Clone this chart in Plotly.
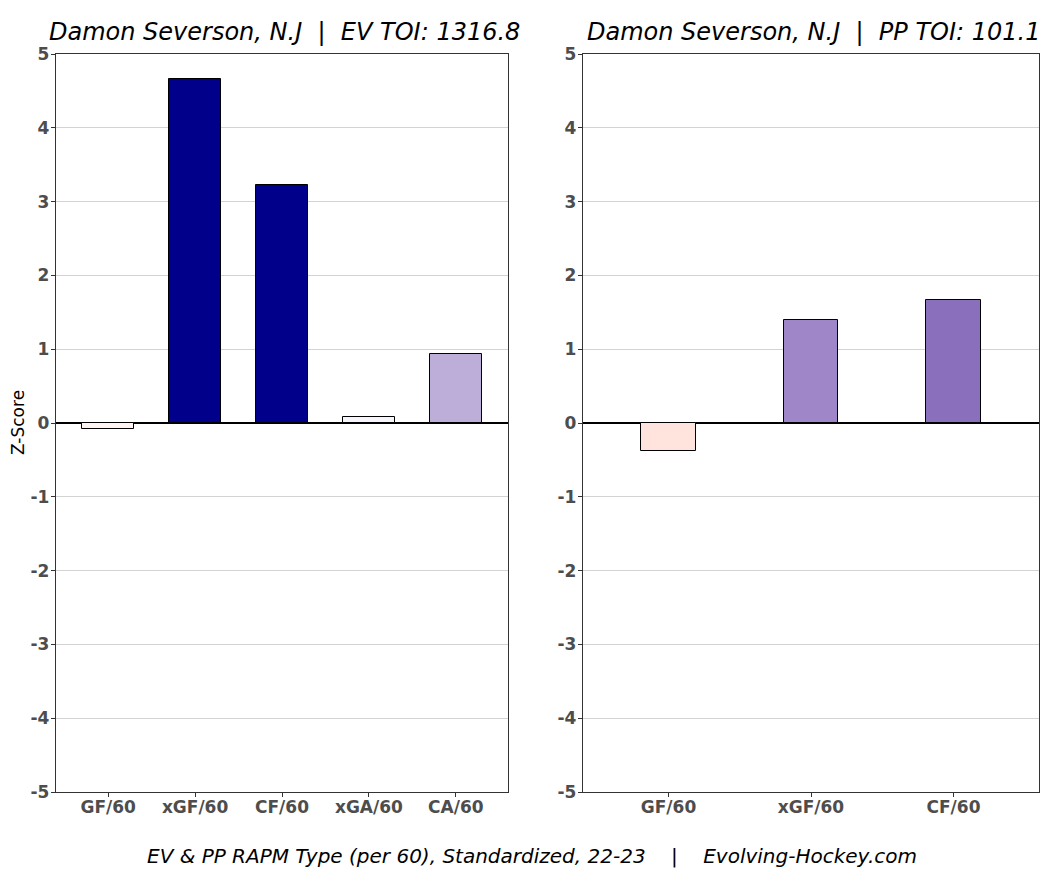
import plotly.graph_objects as go

ev_categories = ["GF/60", "xGF/60", "CF/60", "xGA/60", "CA/60"]
ev_values = [-0.08, 4.66, 3.22, 0.08, 0.94]
ev_colors = ["#FFF4F2", "#00008B", "#00008B", "#F7F5FB", "#BDADD9"]

pp_categories = ["GF/60", "xGF/60", "CF/60"]
pp_values = [-0.38, 1.40, 1.67]
pp_colors = ["#FFE3DD", "#9F86C8", "#8A6FBD"]

y_ticks = [-5, -4, -3, -2, -1, 0, 1, 2, 3, 4, 5]
y_tick_labels = ["-5", "-4", "-3", "-2", "-1", "0", "1", "2", "3", "4", "5"]

title_left = "Damon Severson, N.J\u00a0\u00a0|\u00a0\u00a0EV TOI: 1316.8"
title_right = "Damon Severson, N.J\u00a0\u00a0|\u00a0\u00a0PP TOI: 101.1"
caption = "EV &amp; PP RAPM Type (per 60), Standardized, 22-23\u00a0\u00a0\u00a0\u00a0|\u00a0\u00a0\u00a0\u00a0Evolving-Hockey.com"

# page body has an 8px margin; lay out in window pixels minus that offset
OFF = 8
W, H = 1062 - OFF, 875 - OFF
FONT = "DejaVu Sans"


def px_x(v):
    return (v - OFF) / W


def px_y(v):
    return (H - (v - OFF)) / H


fig = go.Figure()
fig.add_trace(go.Bar(x=ev_categories, y=ev_values, width=0.6,
                     marker=dict(color=ev_colors, line=dict(color="#000000", width=1)),
                     xaxis="x", yaxis="y", showlegend=False, hoverinfo="x+y"))
fig.add_trace(go.Bar(x=pp_categories, y=pp_values, width=0.38,
                     marker=dict(color=pp_colors, line=dict(color="#000000", width=1)),
                     xaxis="x2", yaxis="y2", showlegend=False, hoverinfo="x+y"))

xl = (px_x(56), px_x(508))
xr = (px_x(583), px_x(1039))
yd = (px_y(792), px_y(54))

axis_common = dict(
    showline=True, linecolor="#333333", linewidth=1.3, mirror=True,
    ticks="outside", ticklen=4, tickcolor="#333333", automargin=False,
    tickfont=dict(family=FONT, size=17, color="#4D4D4D", weight="bold"),
)

fig.update_layout(
    width=W, height=H,
    margin=dict(l=0, r=0, t=0, b=0, autoexpand=False),
    paper_bgcolor="white", plot_bgcolor="white",
    font=dict(family=FONT),
    bargap=0,
    xaxis=dict(domain=list(xl), anchor="y", range=[-0.6, 4.6], showgrid=False,
               ticklabelstandoff=-5, **axis_common),
    yaxis=dict(domain=list(yd), anchor="x", range=[-5, 5], tickvals=y_ticks, ticktext=y_tick_labels,
               showgrid=True, gridcolor="#D3D3D3", gridwidth=1,
               zeroline=True, zerolinecolor="#000000", zerolinewidth=1.5,
               ticklabelstandoff=-2, **axis_common),
    xaxis2=dict(domain=list(xr), anchor="y2", range=[-0.6, 2.6], showgrid=False,
                ticklabelstandoff=-5, **axis_common),
    yaxis2=dict(domain=list(yd), anchor="x2", range=[-5, 5], tickvals=y_ticks, ticktext=y_tick_labels,
                showgrid=True, gridcolor="#D3D3D3", gridwidth=1,
                zeroline=True, zerolinecolor="#000000", zerolinewidth=1.5,
                ticklabelstandoff=-2, **axis_common),
    annotations=[
        dict(text="<i>" + title_left + "</i>", xref="paper", yref="paper",
             x=px_x(284), y=px_y(32), xanchor="center", yanchor="middle",
             showarrow=False, font=dict(family=FONT, size=24, color="#000000")),
        dict(text="<i>" + title_right + "</i>", xref="paper", yref="paper",
             x=px_x(813), y=px_y(32), xanchor="center", yanchor="middle",
             showarrow=False, font=dict(family=FONT, size=24, color="#000000")),
        dict(text="Z-Score", xref="paper", yref="paper",
             x=px_x(18), y=px_y(423), xanchor="center", yanchor="middle", textangle=-90,
             showarrow=False, font=dict(family=FONT, size=17, color="#000000")),
        dict(text="<i>" + caption + "</i>", xref="paper", yref="paper",
             x=px_x(532), y=px_y(856), xanchor="center", yanchor="middle",
             showarrow=False, font=dict(family=FONT, size=20, color="#000000")),
    ],
)

fig.write_html("out.html")
